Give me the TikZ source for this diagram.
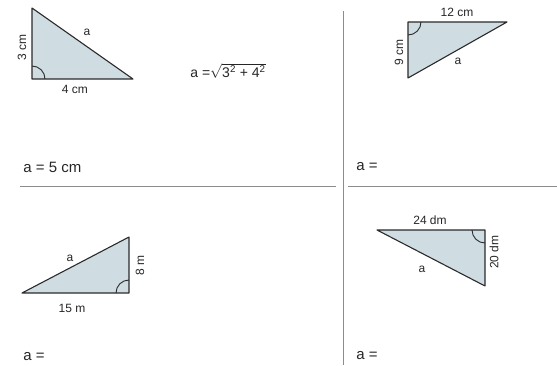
\documentclass[tikz,border=0pt]{standalone}
\usepackage{amsmath}
\usepackage{fontspec}
\setmainfont{Liberation Sans}
\usepackage{tikz}
\usetikzlibrary{positioning}
\tikzset{every picture/.style={line width=0.75pt}}
\definecolor{trifill}{HTML}{CFDDE2}
\definecolor{trieline}{HTML}{2A2A2A}
\definecolor{sepline}{HTML}{8C8C8C}
\tikzset{
  tri/.style={draw=trieline, fill=trifill, line width=1.1pt, line join=round},
  rangle/.style={draw=trieline, line width=0.9pt},
  lbl/.style={font=\fontsize{12}{14}\selectfont, text=black!85, inner sep=1pt},
  ans/.style={font=\fontsize{15}{17}\selectfont, text=black!85, anchor=west, inner sep=0pt},
  sep/.style={draw=sepline, line width=0.9pt}
}

\begin{document}
\begin{tikzpicture}[x=1pt, y=1pt]
\useasboundingbox (0,0) rectangle (557,365);

% separators
\coordinate (hl1) at (20,179);  \coordinate (hl2) at (336,179);
\coordinate (hr1) at (348,179); \coordinate (hr2) at (557,179);
\coordinate (vt) at (343,354);  \coordinate (vb) at (343,0);
\draw[sep] (hl1) -- (hl2);
\draw[sep] (hr1) -- (hr2);
\draw[sep] (vt) -- (vb);

% 3 cm / 4 cm
\coordinate (ra1) at (32,286);
\coordinate (top1) at (32,357);
\coordinate (rt1) at (133,286);
\filldraw[tri] (ra1) -- (top1) -- (rt1) -- cycle;
\draw[rangle] ([xshift=13pt]ra1) arc (0:90:13pt);
\node[lbl] (hyp1) at (87,333) {a};
\node[lbl, rotate=90] (side1) at (22,318) {3 cm};
\node[lbl] (base1) at (75,276) {4 cm};
\node[lbl, font=\fontsize{14}{16}\selectfont] (form1) at (228,294)
  {a =$\sqrt{\text{3\textsuperscript{2} + 4\textsuperscript{2}}}$};
\node[ans] (ans1) at (23,198) {a = 5 cm};

% 9 cm / 12 cm
\coordinate (ra2) at (408,343);
\coordinate (rt2) at (507,343);
\coordinate (bot2) at (408,287);
\filldraw[tri] (ra2) -- (rt2) -- (bot2) -- cycle;
\draw[rangle] ([yshift=-13pt]ra2) arc (270:360:13pt);
\node[lbl] (top2) at (457,353) {12 cm};
\node[lbl, rotate=90] (side2) at (399,313) {9 cm};
\node[lbl] (hyp2) at (458,304) {a};
\node[ans] (ans2) at (356,198) {a =};

% 8 m / 15 m
\coordinate (ra3) at (129,72);
\coordinate (lf3) at (22,72);
\coordinate (top3) at (129,128);
\filldraw[tri] (lf3) -- (ra3) -- (top3) -- cycle;
\draw[rangle] ([xshift=-13pt]ra3) arc (180:90:13pt);
\node[lbl] (hyp3) at (70,107) {a};
\node[lbl, rotate=90] (side3) at (140,100) {8 m};
\node[lbl] (base3) at (72,57) {15 m};
\node[ans] (ans3) at (23,8) {a =};

% 20 dm / 24 dm
\coordinate (ra4) at (485,135);
\coordinate (lf4) at (377,135);
\coordinate (bot4) at (485,79);
\filldraw[tri] (lf4) -- (ra4) -- (bot4) -- cycle;
\draw[rangle] ([xshift=-13pt]ra4) arc (180:270:13pt);
\node[lbl] (top4) at (430,145) {24 dm};
\node[lbl, rotate=90] (side4) at (494,113) {20 dm};
\node[lbl] (hyp4) at (422,96) {a};
\node[ans] (ans4) at (356,9) {a =};
\end{tikzpicture}
\end{document}
